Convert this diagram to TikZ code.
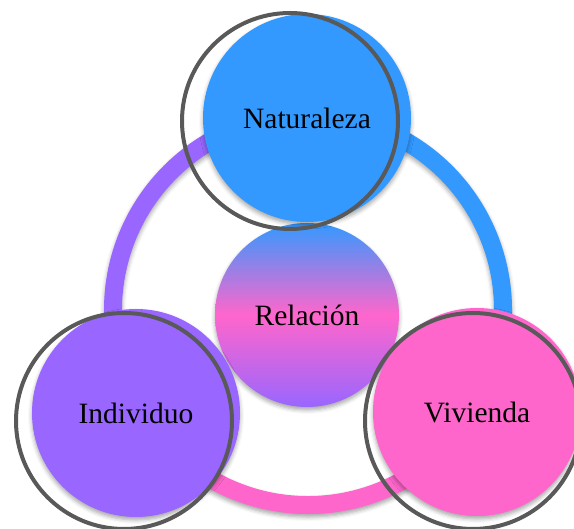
\documentclass[tikz,border=0pt]{standalone}
\usepackage{fontspec}
\setmainfont{Liberation Serif}
\usetikzlibrary{shadows.blur}
\definecolor{azul}{HTML}{3399FF}
\definecolor{lila}{HTML}{9966FF}
\definecolor{rosa}{HTML}{FF66CC}
\definecolor{borde}{HTML}{595959}
\tikzset{
  sombra/.style={blur shadow={shadow xshift=0pt,shadow yshift=-3pt,shadow blur radius=4pt,shadow opacity=35}},
  tema/.style={circle,inner sep=0pt,minimum size=208pt,font=\fontsize{29.5}{30}\selectfont,sombra},
  aro/.style={circle,draw=borde,line width=4pt,minimum size=216pt,inner sep=0pt},
}
\begin{document}
\begin{tikzpicture}[x=1pt,y=1pt]
\useasboundingbox (0,0) rectangle (574,529);
\coordinate (hub) at (308,219);
% anillo de fondo
\foreach \a/\b/\c in {90/211/lila,211/329/rosa,329/450/azul}{
  \fill[\c,sombra] ([shift={(\a:204)}]hub) arc[start angle=\a,end angle=\b,radius=204]
    -- ([shift={(\b:186)}]hub) arc[start angle=\b,end angle=\a,radius=186] -- cycle;
}
% centro
\node[circle,inner sep=0pt,minimum size=184pt,top color=azul,bottom color=lila,middle color=rosa,
  font=\fontsize{29.5}{30}\selectfont,sombra] (rel) at (307,214) {Relación};
% temas
\node[tema,fill=azul] (nat) at (307,411) {Naturaleza};
\node[aro] (natrim) at (290,408) {};
\node[tema,fill=lila] (ind) at (136,116) {Individuo};
\node[aro] (indrim) at (124,108) {};
\node[tema,fill=rosa] (viv) at (477,117) {Vivienda};
\node[aro] (vivrim) at (473,108) {};
\end{tikzpicture}
\end{document}
